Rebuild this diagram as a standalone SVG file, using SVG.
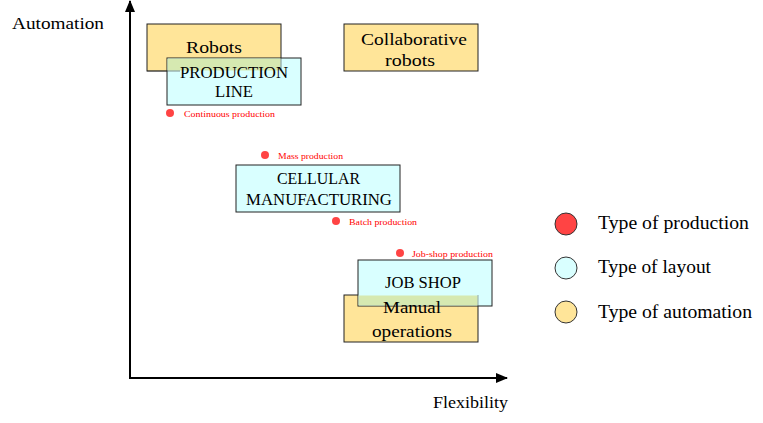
<svg xmlns="http://www.w3.org/2000/svg" width="763" height="423" viewBox="0 0 763 423" font-family="'Liberation Serif','DejaVu Serif',serif">
<style>
text{font-family:'Liberation Serif','DejaVu Serif',serif;fill:#000}
.auto{fill:#FFE599;stroke:#222;stroke-width:1}
.lay{fill:#D9FFFF;stroke:#222;stroke-width:1}
.ovl{fill:#D6E9B1;stroke:none}
.lbl{font-size:17px}
.dot{fill:#FF4444}
.ptxt{font-size:8px;fill:#FF0000}
.leg{font-size:18px}
.ax{stroke:#000;stroke-width:2;fill:none}
</style>
<defs>
<marker id="ah" markerWidth="12" markerHeight="10" refX="11" refY="5" orient="auto" markerUnits="userSpaceOnUse" viewBox="0 0 12 10">
<path d="M0,0 L12,5 L0,10 z" fill="#000"/>
</marker>
</defs>
<g id="axes" class="connectors">
<line class="ax" x1="130" y1="378" x2="130" y2="1" marker-end="url(#ah)"/>
<line class="ax" x1="129" y1="378" x2="507" y2="378" marker-end="url(#ah)"/>
</g>
<text x="12" y="29" font-size="17" textLength="92" lengthAdjust="spacingAndGlyphs">Automation</text>
<text x="433" y="408" font-size="17" textLength="75" lengthAdjust="spacingAndGlyphs">Flexibility</text>

<g id="robots"><rect class="auto" x="147" y="24" width="134" height="47"/><text class="lbl" x="186" y="53" textLength="56" lengthAdjust="spacingAndGlyphs">Robots</text></g>
<g id="production-line"><rect class="lay" x="167" y="58" width="134" height="47"/><rect class="ovl" x="167.5" y="58.5" width="113" height="12"/><path d="M147,71 H180 M281,58 V71" stroke="#222" stroke-opacity="0.5" fill="none"/><text class="lbl" x="180" y="78" textLength="108" lengthAdjust="spacingAndGlyphs">PRODUCTION</text><text class="lbl" x="215" y="97" textLength="38" lengthAdjust="spacingAndGlyphs">LINE</text></g>
<g id="collab"><rect class="auto" x="344" y="24" width="134" height="47"/><text class="lbl" x="361" y="45" textLength="106" lengthAdjust="spacingAndGlyphs">Collaborative</text><text class="lbl" x="385" y="66" textLength="50" lengthAdjust="spacingAndGlyphs">robots</text></g>
<g id="continuous"><circle class="dot" cx="170" cy="113" r="4"/><text class="ptxt" x="184" y="117" textLength="91" lengthAdjust="spacingAndGlyphs">Continuous production</text></g>
<g id="mass"><circle class="dot" cx="265" cy="155" r="4"/><text class="ptxt" x="278" y="159" textLength="65" lengthAdjust="spacingAndGlyphs">Mass production</text></g>
<g id="cellular"><rect class="lay" x="236" y="165" width="164" height="47"/><text class="lbl" x="277" y="184" textLength="83" lengthAdjust="spacingAndGlyphs">CELLULAR</text><text class="lbl" x="246" y="205" textLength="146" lengthAdjust="spacingAndGlyphs">MANUFACTURING</text></g>
<g id="batch"><circle class="dot" cx="336" cy="221" r="4"/><text class="ptxt" x="349" y="225" textLength="68" lengthAdjust="spacingAndGlyphs">Batch production</text></g>
<g id="jobshop-prod"><circle class="dot" cx="400" cy="253" r="4"/><text class="ptxt" x="412" y="257" textLength="81" lengthAdjust="spacingAndGlyphs">Job-shop production</text></g>
<g id="manual"><rect class="auto" x="344" y="295" width="134" height="47"/></g>
<g id="jobshop"><rect class="lay" x="358" y="260" width="134" height="46"/><rect class="ovl" x="358.5" y="295.5" width="119" height="10"/><path d="M478,295 V306" stroke="#222" stroke-opacity="0.4" fill="none"/><text class="lbl" x="385" y="288" textLength="76" lengthAdjust="spacingAndGlyphs">JOB SHOP</text></g>
<g id="manual-text"><text class="lbl" x="383" y="313" textLength="58" lengthAdjust="spacingAndGlyphs">Manual</text><text class="lbl" x="372" y="337" textLength="80" lengthAdjust="spacingAndGlyphs">operations</text></g>

<g id="legend">
<circle cx="566" cy="224" r="11" fill="#FF4444" stroke="#333"/><text class="leg" x="598" y="229" textLength="151" lengthAdjust="spacingAndGlyphs">Type of production</text>
<circle cx="566" cy="268" r="11" fill="#D9FFFF" stroke="#333"/><text class="leg" x="598" y="273" textLength="113" lengthAdjust="spacingAndGlyphs">Type of layout</text>
<circle cx="566" cy="312" r="11" fill="#FFE599" stroke="#333"/><text class="leg" x="598" y="318" textLength="154" lengthAdjust="spacingAndGlyphs">Type of automation</text>
</g>
</svg>
